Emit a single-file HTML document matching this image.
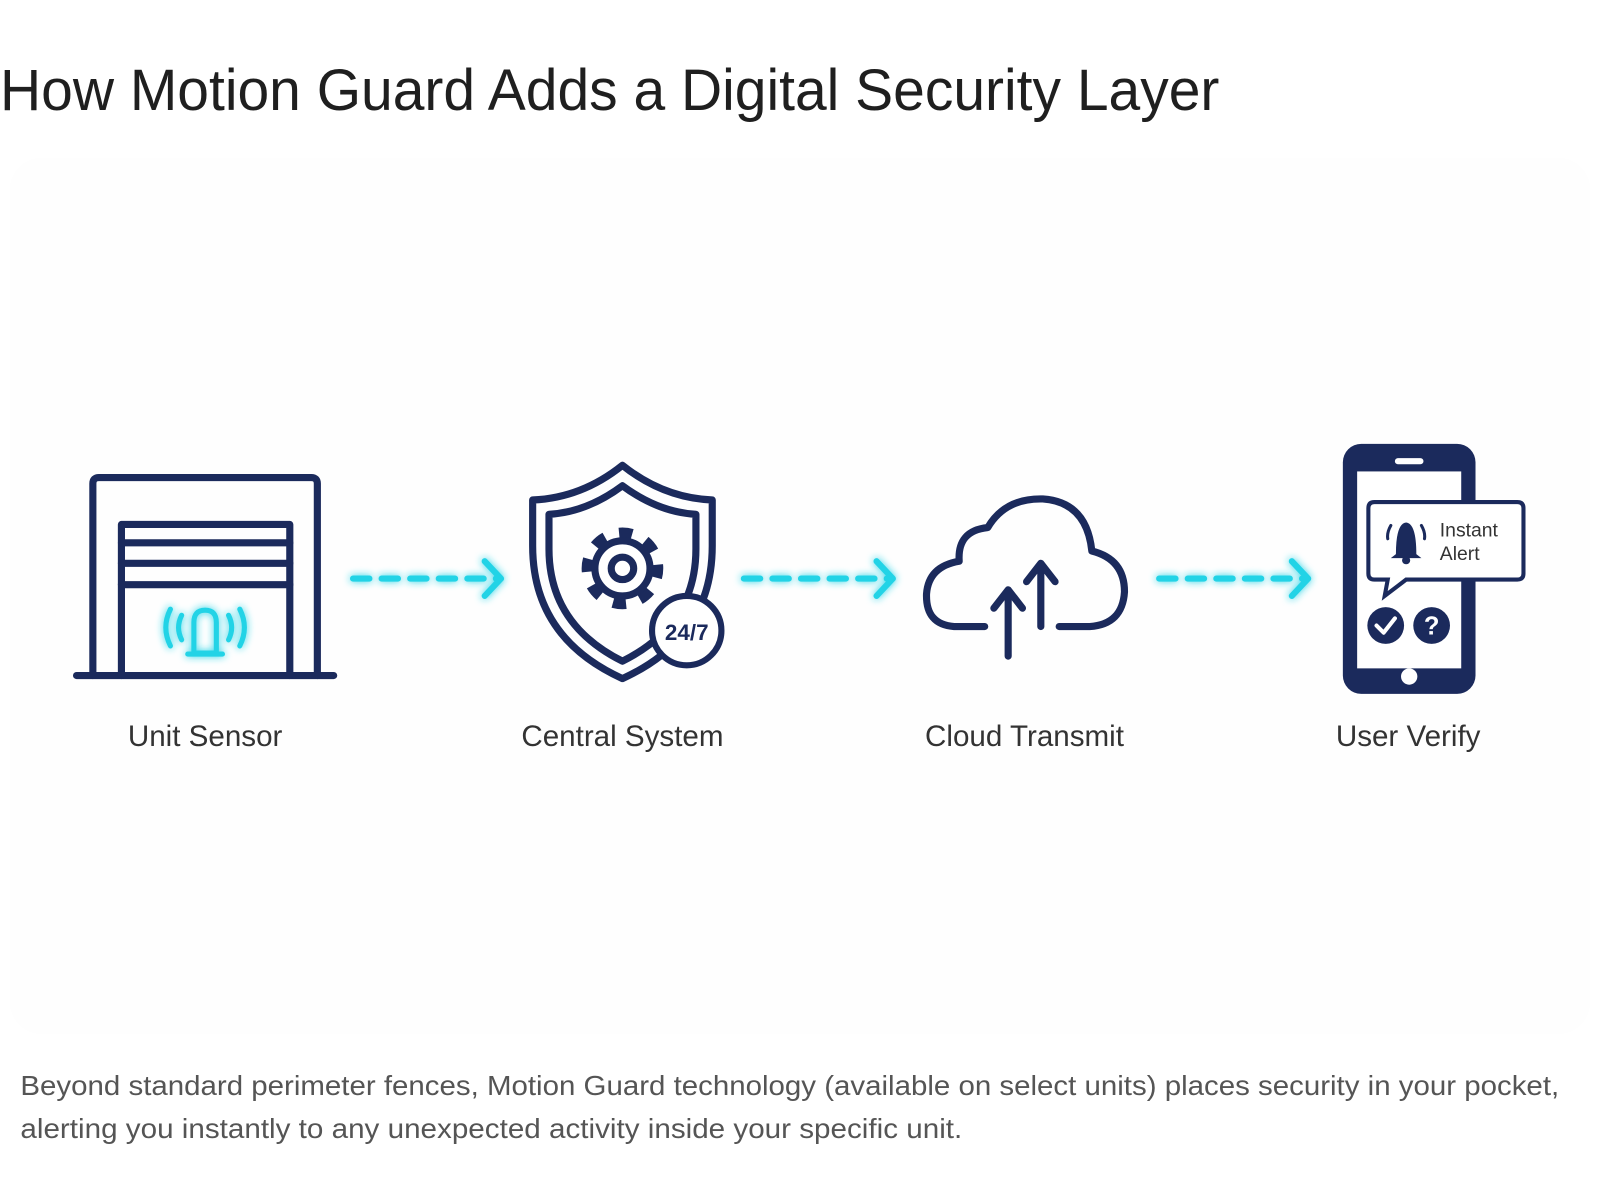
<!DOCTYPE html>
<html><head><meta charset="utf-8"><style>
html,body{margin:0;padding:0;background:#fff;width:1600px;height:1200px;overflow:hidden}
svg{display:block}
</style></head><body>
<svg width="1600" height="1200" viewBox="0 0 1568 1176" xmlns="http://www.w3.org/2000/svg" font-family="Liberation Sans, sans-serif">
<defs>
<filter id="glow" x="-30%" y="-60%" width="160%" height="220%"><feGaussianBlur stdDeviation="4" result="b"/><feMerge><feMergeNode in="b"/><feMergeNode in="SourceGraphic"/></feMerge></filter>
</defs>
<rect x="10" y="155" width="1548" height="858" rx="30" fill="#fefefe"/>
<text x="0" y="108" font-size="57" fill="#1f1f1f" textLength="1195" lengthAdjust="spacingAndGlyphs">How Motion Guard Adds a Digital Security Layer</text>

<!-- Garage -->
<g fill="none" stroke="#1b2a5c" stroke-width="7" stroke-linejoin="round" stroke-linecap="round">
<path d="M91 662 V474 Q91 468 97 468 H305 Q311 468 311 474 V662"/>
<path d="M75 662 H327"/>
<path d="M119 662 V514 H284 V662"/>
<path d="M119 532 H284 M119 552 H284 M119 573 H284"/>
</g>
<g fill="none" stroke="#22d3e6" stroke-width="5" stroke-linecap="round" filter="url(#glow)">
<path d="M190 640 V610 Q190 598 201 598 Q212 598 212 610 V640 Z M184 641 H218"/>
<path d="M178 603 Q172 615 178 627 M224 603 Q230 615 224 627 M167 597 Q158 615 167 633 M235 597 Q244 615 235 633"/>
</g>

<!-- Arrows -->
<g stroke="#22d3e6" stroke-width="6" fill="none" stroke-linecap="round" stroke-linejoin="round" filter="url(#glow)">
<path d="M346 567 H488" stroke-dasharray="16 12"/><path d="M475 550 L491 567 L475 584"/>
<path d="M729 567 H872" stroke-dasharray="16 12"/><path d="M859 550 L875 567 L859 584"/>
<path d="M1136 567 H1279" stroke-dasharray="16 12"/><path d="M1266 550 L1282 567 L1266 584"/>
</g>

<!-- Shield -->
<g fill="none" stroke="#1b2a5c" stroke-width="7" stroke-linejoin="round">
<path d="M610 456 Q570 488 522 490 V535 Q522 625 610 665 Q698 625 698 535 V490 Q650 488 610 456 Z"/>
<path d="M610 476 Q575 502 538 504 V538 Q538 612 610 648 Q682 612 682 538 V504 Q645 502 610 476 Z"/>
</g>
<circle cx="610" cy="557" r="35" fill="none" stroke="#1b2a5c" stroke-width="10" stroke-dasharray="13 14.5" transform="rotate(-6 610 557)"/>
<circle cx="610" cy="557" r="27" fill="#fff" stroke="#1b2a5c" stroke-width="7"/>
<circle cx="610" cy="557" r="11" fill="none" stroke="#1b2a5c" stroke-width="7"/>
<circle cx="673" cy="618" r="34" fill="#fff" stroke="#1b2a5c" stroke-width="6"/>
<text x="673" y="627" font-size="22" font-weight="bold" fill="#1b2a5c" text-anchor="middle">24/7</text>

<!-- Cloud -->
<g fill="none" stroke="#1b2a5c" stroke-width="7" stroke-linecap="round" stroke-linejoin="round">
<path d="M965 614 H935 Q907 612 908 582 Q910 555 940 550 Q938 520 968 517 Q985 488 1022 489 Q1065 492 1070 540 Q1102 548 1102 580 Q1100 612 1068 614 H1038"/>
<path d="M988 643 V580 M974 596 L988 578 L1002 596"/>
<path d="M1020 614 V553 M1006 570 L1020 552 L1034 570"/>
</g>

<!-- Phone -->
<rect x="1316" y="435" width="130" height="245" rx="18" fill="#1b2a5c"/>
<rect x="1330" y="462" width="102" height="193" fill="#fff"/>
<rect x="1367" y="449" width="28" height="6" rx="3" fill="#fff"/>
<circle cx="1381" cy="663" r="8" fill="#fff"/>
<path d="M1347 492 H1487 Q1493 492 1493 498 V562 Q1493 568 1487 568 H1378 L1357 584 L1360 568 H1347 Q1341 568 1341 562 V498 Q1341 492 1347 492 Z" fill="#fff" stroke="#1b2a5c" stroke-width="4"/>
<path d="M1368 543 Q1368 513 1378 512 Q1388 513 1388 543 L1393 547 H1363 Z" fill="#1b2a5c"/>
<circle cx="1378" cy="549" r="4" fill="#1b2a5c"/>
<path d="M1363 515 Q1359 522 1360 528 M1393 515 Q1397 522 1396 528" stroke="#1b2a5c" stroke-width="3" fill="none" stroke-linecap="round"/>
<text x="1411" y="526" font-size="19" fill="#333">Instant</text>
<text x="1411" y="549" font-size="19" fill="#333">Alert</text>
<circle cx="1358" cy="613" r="18" fill="#1b2a5c"/>
<path d="M1349 613 L1356 620 L1367 606" stroke="#fff" stroke-width="4" fill="none" stroke-linecap="round" stroke-linejoin="round"/>
<circle cx="1403" cy="613" r="18" fill="#1b2a5c"/>
<text x="1403" y="622" font-size="25" font-weight="bold" fill="#fff" text-anchor="middle">?</text>

<!-- Labels -->
<g font-size="29" fill="#333" text-anchor="middle">
<text x="201" y="731">Unit Sensor</text>
<text x="610" y="731">Central System</text>
<text x="1004" y="731">Cloud Transmit</text>
<text x="1380" y="731">User Verify</text>
</g>

<g font-size="27" fill="#555">
<text x="20" y="1073" textLength="1508" lengthAdjust="spacingAndGlyphs">Beyond standard perimeter fences, Motion Guard technology (available on select units) places security in your pocket,</text>
<text x="20" y="1115" textLength="923" lengthAdjust="spacingAndGlyphs">alerting you instantly to any unexpected activity inside your specific unit.</text>
</g>
</svg>
</body></html>
